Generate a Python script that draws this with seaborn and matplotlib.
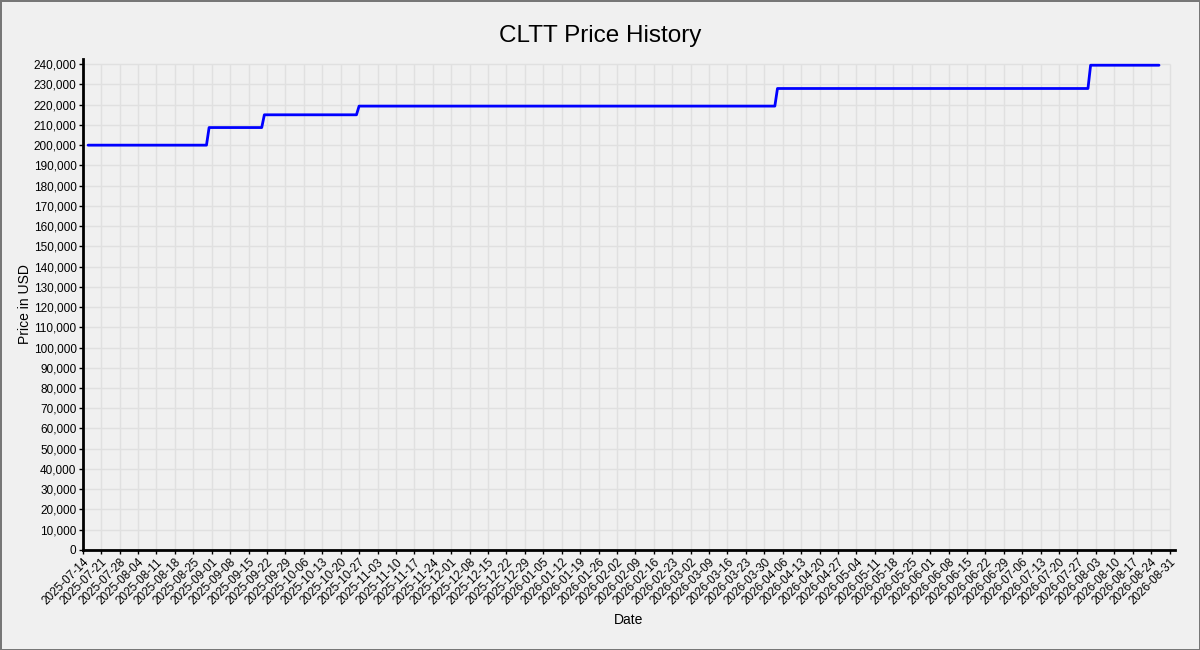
import pandas as pd
import seaborn as sns
import matplotlib.pyplot as plt
import matplotlib.ticker as mticker

# price change points (one day apart at each jump)
dates = ['2025-07-16', '2025-08-30', '2025-08-31', '2025-09-20', '2025-09-21',
         '2025-10-26', '2025-10-27', '2026-04-03', '2026-04-04', '2026-07-31',
         '2026-08-01', '2026-08-27']
prices = [200000, 200000, 208700, 208700, 215000, 215000, 219300, 219300,
          228000, 228000, 239500, 239500]

tick_start = '2025-07-14'
tick_end = '2026-08-31'
y_top = 240000

sns.set_theme(style='white')
plt.rcParams['font.family'] = ['Liberation Sans', 'DejaVu Sans']

df = pd.DataFrame({'Date': pd.to_datetime(dates), 'Price': prices})

fig = plt.figure(figsize=(12, 6.5), dpi=100, facecolor='#f0f0f0',
                 edgecolor='#777777', linewidth=2)
ax = fig.add_axes([0.069, 0.154, 0.91, 0.755])
ax.set_facecolor('#f0f0f0')

ticks = pd.date_range(tick_start, tick_end, freq='7D')
yticks = list(range(0, y_top + 1, 10000))

# grid only spans the tick range, like the original
ax.vlines(ticks, 0, y_top, color='#e0e0e0', linewidth=1, zorder=0)
ax.hlines(yticks, pd.Timestamp(tick_start), pd.Timestamp(tick_end),
          color='#e0e0e0', linewidth=1, zorder=0)

sns.lineplot(data=df, x='Date', y='Price', ax=ax, color='#0000ff', linewidth=2)

ax.set_xlim(pd.Timestamp(tick_start), pd.Timestamp('2026-09-02'))
ax.set_ylim(0, 242500)

ax.set_xticks(ticks)
ax.set_xticklabels([t.strftime('%Y-%m-%d') for t in ticks], rotation=45,
                   ha='right', rotation_mode='anchor', fontsize=8.5, color='black')
ax.set_yticks(yticks)
ax.yaxis.set_major_formatter(mticker.StrMethodFormatter('{x:,.0f}'))
ax.tick_params(axis='y', labelsize=8.5, labelcolor='black')
ax.tick_params(axis='both', which='major', length=3, width=1, color='black',
               direction='out', bottom=True, left=True, pad=1.5)

for side in ['top', 'right']:
    ax.spines[side].set_visible(False)
for side in ['left', 'bottom']:
    ax.spines[side].set_color('black')
    ax.spines[side].set_linewidth(2)

fig.text(0.5, 0.945, 'CLTT Price History', fontsize=17.5, color='black',
         ha='center', va='center')
ax.set_xlabel('Date', fontsize=10, color='black')
ax.set_ylabel('Price in USD', fontsize=10, color='black', labelpad=1)

fig.savefig('out.png', dpi=100, facecolor=fig.get_facecolor(),
            edgecolor=fig.get_edgecolor())
